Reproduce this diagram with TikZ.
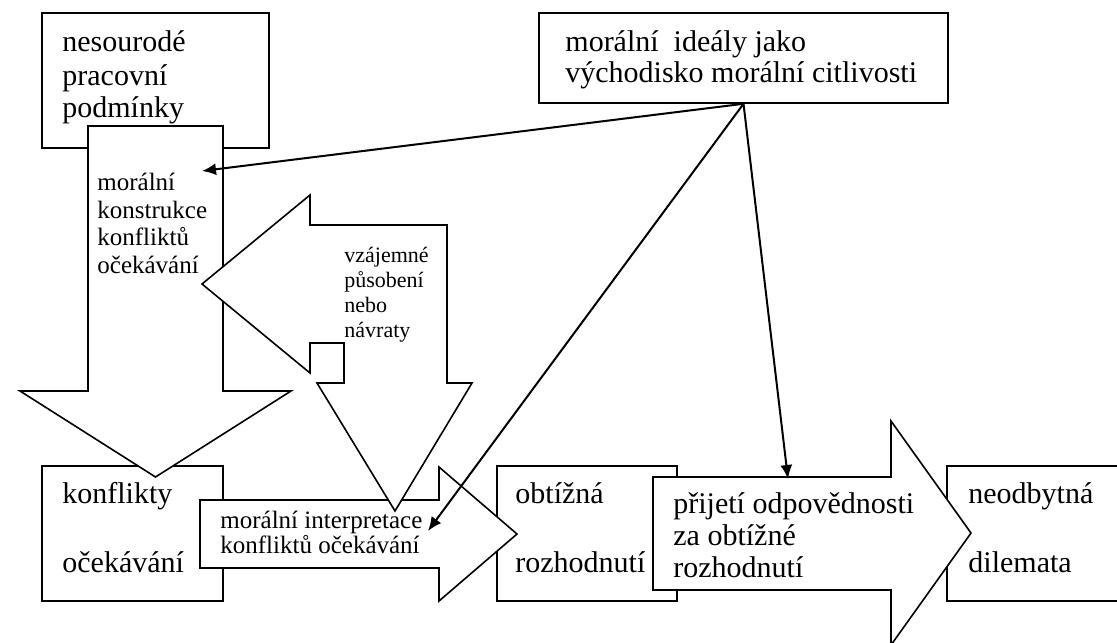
\documentclass[tikz,border=0pt]{standalone}
\usepackage{fontspec}
\setmainfont{Liberation Serif}
\usetikzlibrary{arrows.meta,fit}

\begin{document}
\begin{tikzpicture}[
    x=0.5pt, y=-0.5pt,
    box/.style={rectangle, draw, line width=0.8pt, fill=white, inner sep=0pt},
    blockarrow/.style={draw, line width=0.8pt, fill=white, line join=miter},
    txt/.style={anchor=base west, inner sep=0pt, align=left, font=\fontsize{15}{16.5}\selectfont},
    smalltxt/.style={txt, font=\fontsize{12.5}{13.75}\selectfont},
    twoline/.style={txt, font=\fontsize{15}{34.5}\selectfont},
    link/.style={->, >={Latex[length=7pt, width=6pt]}, line width=1pt}
]
\useasboundingbox (0,0) rectangle (1117,642);

% boxes
\node[box, fit={(42,13) (269,148)}] (podminky) {};
\node[box, fit={(539,13) (948,103)}] (idealy) {};
\node[box, fit={(42,466) (223,601)}] (konflikty) {};
\node[box, fit={(497,466) (677,601)}] (obtizna) {};
\node[box, fit={(947,466) (1125,601)}] (dilemata) {};

% block arrows
\draw[blockarrow] (88,126) -- (223,126) -- (223,391) -- (291,391) -- (155.5,477)
    -- (20,391) -- (88,391) -- cycle;
\draw[blockarrow] (200,500) -- (439,500) -- (439,467) -- (517,534) -- (439,601)
    -- (439,568) -- (200,568) -- cycle;
\draw[blockarrow] (202,284) -- (310,195) -- (310,225) -- (447,225) -- (447,383)
    -- (472,383) -- (395,511) -- (317,383) -- (344,383) -- (344,343) -- (310,343)
    -- (310,373) -- cycle;
\draw[blockarrow] (653,477) -- (891,477) -- (891,421) -- (971,533) -- (891,645)
    -- (891,590) -- (653,590) -- cycle;

% texts (anchored at the baseline of the last line)
\node[txt] (podminkyT) at (62,118) {nesourodé\\pracovní\\podmínky};
\node[txt, font=\fontsize{15}{15.5}\selectfont] (idealyT) at (565,83) {morální\ \ ideály jako\\východisko morální citlivosti};
\node[smalltxt] (konstrukce) at (97,273) {morální\\konstrukce\\konfliktů\\očekávání};
\node[txt, font=\fontsize{11}{12.5}\selectfont] (navraty) at (344,337) {vzájemné\\působení\\nebo\\návraty};
\node[twoline] (konfliktyT) at (62,572) {konflikty\\očekávání};
\node[smalltxt, font=\fontsize{12.5}{12.5}\selectfont] (interpretace) at (220,553) {morální interpretace\\konfliktů očekávání};
\node[twoline] (obtiznaT) at (515,572) {obtížná\\rozhodnutí};
\node[txt, font=\fontsize{15}{16}\selectfont] (prijeti) at (673,577) {přijetí odpovědnosti\\za obtížné\\rozhodnutí};
\node[twoline] (dilemataT) at (968,572) {neodbytná\\dilemata};

% links
\coordinate (toKonstrukce) at (202,171);
\coordinate (toInterp) at (428,531);
\coordinate (toPrijeti) at (788,479);
\draw[link] (idealy.south) -- (toKonstrukce);
\draw[link] (idealy.south) -- (toInterp);
\draw[link] (idealy.south) -- (toPrijeti);

\end{tikzpicture}
\end{document}
